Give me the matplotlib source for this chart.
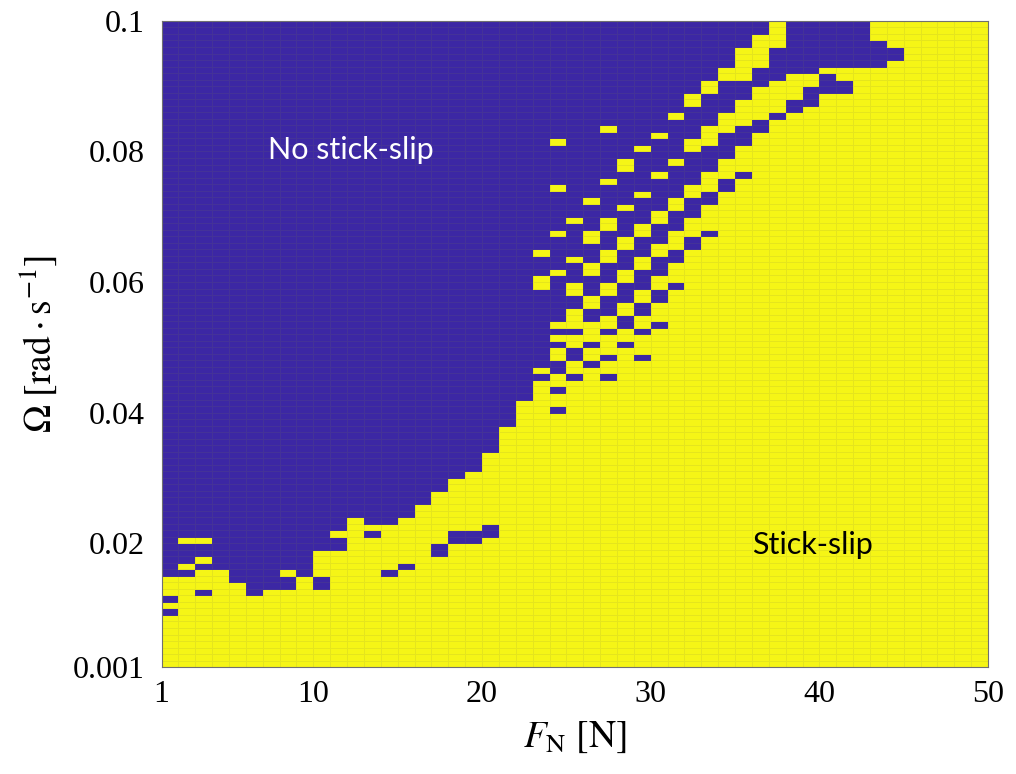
import numpy as np
import matplotlib
matplotlib.use("Agg")
import matplotlib.pyplot as plt
from matplotlib.colors import ListedColormap

###############################################################################
# Data

# grid vertices: normal load F_N [N] and rotation speed Omega [rad/s]
force_edges = np.arange(1, 51)
omega_edges = np.linspace(0.001, 0.1, 100)

# for each F_N cell (1-2, 2-3, ... 49-50) the Omega row ranges (row 0 = 0.001-0.002,
# row 98 = 0.099-0.1) where NO stick-slip occurs; every other cell shows stick-slip
no_stick_rows = [
    [(14, 98), (10, 10), (8, 8)],
    [(20, 98), (16, 18), (14, 14)],
    [(20, 98), (17, 18), (15, 15), (11, 11)],
    [(15, 98)],
    [(13, 98)],
    [(11, 98)],
    [(12, 98)],
    [(15, 98), (12, 13)],
    [(14, 98)],
    [(18, 98), (12, 13)],
    [(21, 98), (18, 19)],
    [(23, 98)],
    [(22, 98), (20, 20)],
    [(22, 98), (14, 14)],
    [(23, 98), (15, 15)],
    [(25, 98)],
    [(27, 98), (17, 18)],
    [(29, 98), (19, 20)],
    [(30, 98), (19, 20)],
    [(33, 98), (20, 21)],
    [(37, 98)],
    [(41, 98)],
    [(64, 98), (60, 62), (46, 57), (44, 44)],
    [(81, 98), (74, 79), (67, 72), (61, 65), (53, 59), (51, 51), (49, 49),
     (45, 46), (42, 42), (39, 39)],
    [(69, 98), (63, 67), (59, 61), (55, 56), (51, 51), (47, 48), (44, 44)],
    [(72, 98), (67, 70), (62, 64), (57, 59), (53, 54), (49, 49), (46, 46)],
    [(83, 98), (75, 81), (69, 73), (64, 66), (59, 61), (54, 56), (51, 51),
     (47, 47), (44, 44)],
    [(78, 98), (71, 75), (66, 69), (61, 63), (56, 58), (52, 53), (49, 49)],
    [(80, 98), (73, 78), (68, 71), (63, 65), (58, 60), (54, 55), (51, 51),
     (47, 47)],
    [(82, 98), (76, 80), (70, 74), (65, 67), (60, 62), (56, 57), (52, 52)],
    [(85, 98), (78, 83), (72, 76), (67, 69), (62, 63), (58, 58)],
    [(88, 98), (81, 85), (74, 78), (69, 71), (64, 65)],
    [(90, 98), (83, 87), (76, 79), (71, 72), (66, 66)],
    [(92, 98), (85, 89), (78, 81), (73, 74)],
    [(95, 98), (87, 89), (80, 82), (75, 75)],
    [(97, 98), (89, 91), (82, 83)],
    [(90, 94), (84, 84)],
    [(91, 98), (85, 86)],
    [(91, 98), (86, 88)],
    [(92, 98), (88, 90)],
    [(92, 98), (88, 89)],
    [(92, 98)],
    [(92, 95)],
    [(93, 94)],
    [],
    [],
    [],
    [],
    [],
]

x_ticks = [1, 10, 20, 30, 40, 50]
y_ticks = [0.001, 0.02, 0.04, 0.06, 0.08, 0.1]
y_tick_labels = ["0.001", "0.02", "0.04", "0.06", "0.08", "0.1"]

###############################################################################
# Build the map (1 = stick-slip, 0 = no stick-slip)

stick = np.ones((len(omega_edges) - 1, len(force_edges) - 1))
for col, runs in enumerate(no_stick_rows):
    for lo, hi in runs:
        stick[lo:hi + 1, col] = 0

###############################################################################
# Plot

plt.rcParams["font.family"] = "serif"
plt.rcParams["font.serif"] = ["Liberation Serif", "DejaVu Serif"]
plt.rcParams["mathtext.fontset"] = "stix"

fig = plt.figure(figsize=(10.16, 7.74), dpi=100)
ax = fig.add_axes([0.159, 0.138, 0.8135, 0.835])

cmap = ListedColormap(["#3c27a4", "#f5f516"])
ax.pcolormesh(force_edges, omega_edges, stick, cmap=cmap, vmin=0, vmax=1,
              edgecolors=(0.5, 0.5, 0.3, 0.13), linewidth=0.6)

ax.set_xlim(1, 50)
ax.set_ylim(0.001, 0.1)
ax.set_xticks(x_ticks)
ax.set_xticklabels([str(t) for t in x_ticks])
ax.set_yticks(y_ticks)
ax.set_yticklabels(y_tick_labels)
ax.tick_params(length=0, labelsize=23, pad=9)
ax.tick_params(axis="y", pad=12)
for s in ax.spines.values():
    s.set_color("#707070")
    s.set_linewidth(0.8)

ax.set_xlabel(r"$F_{\mathrm{N}}\ [\mathrm{N}]$", fontsize=27, labelpad=8)
ax.set_ylabel(r"$\Omega\ [\mathrm{rad}\cdot\mathrm{s}^{-1}]$", fontsize=27, labelpad=10)

ax.text(12.2, 0.0802, "No stick-slip", color="white", fontsize=22,
        family="Lato", ha="center", va="center")
ax.text(39.6, 0.0197, "Stick-slip", color="black", fontsize=22,
        family="Lato", ha="center", va="center")

fig.savefig("out.png", dpi=100)
